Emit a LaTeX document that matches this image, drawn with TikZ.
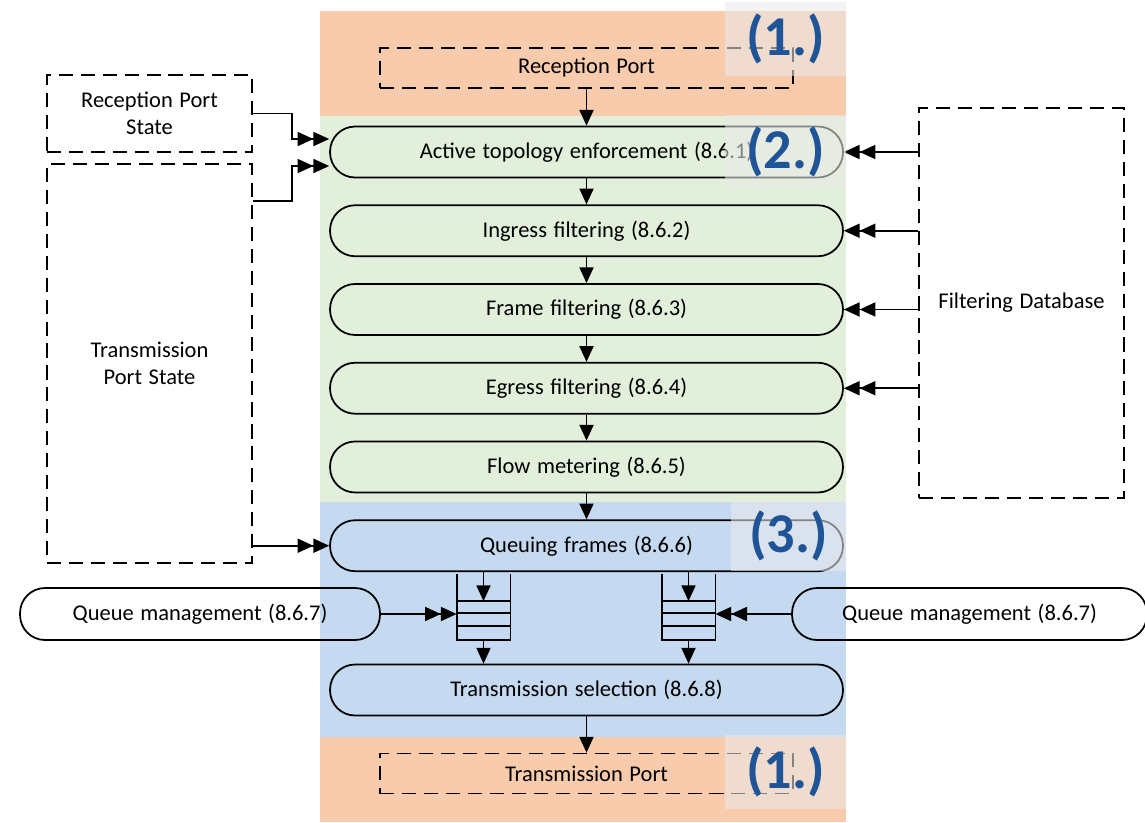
\documentclass[tikz,border=0pt]{standalone}
\usepackage{fontspec}
\setmainfont{Carlito}[WordSpace=1.3]
\usetikzlibrary{arrows.meta,positioning}
\definecolor{bandorange}{HTML}{F8CBAD}
\definecolor{bandgreen}{HTML}{E2EFDA}
\definecolor{bandblue}{HTML}{C5D9F0}
\definecolor{labelblue}{HTML}{1F5597}
\begin{document}
\begin{tikzpicture}[x=0.02cm,y=-0.02cm,>={Triangle[length=9pt,width=8pt]},font=\fontsize{12.8}{15.5}\selectfont,line width=1pt]

    % Define node styles
    \tikzstyle{stage_block} = [draw, rounded corners=0.5cm, minimum width=10.26cm, minimum height=1.02cm, text centered]
    \tikzstyle{port_block} = [draw, dash pattern=on 8pt off 4.5pt, minimum width=8.26cm, minimum height=0.8cm, text centered]
    \tikzstyle{state_block} = [draw, dash pattern=on 8pt off 4.5pt, minimum width=4.1cm, align=center]
    \tikzstyle{manage_block} = [draw, rounded corners=0.5cm, minimum height=1.04cm, text centered]
    \tikzstyle{queue_block} = [minimum width=1.04cm, minimum height=0.74cm, inner sep=0pt]
    \tikzstyle{band_label} = [fill=black!8, fill opacity=0.56, text opacity=1, text=labelblue, font=\fontsize{32}{34}\selectfont\bfseries, minimum width=2.42cm, minimum height=1.48cm]

    \useasboundingbox (0,0) rectangle (1145,822);

    % Draw bands
    \fill[bandorange] (320,11) rectangle (846,116);
    \fill[bandgreen] (320,116) rectangle (846,502);
    \fill[bandblue] (320,502) rectangle (846,737);
    \fill[bandorange] (320,737) rectangle (846,822);

    % Draw nodes
    \node [port_block] (rx_port) at (586.5,68) {Reception Port};
    \node [stage_block] (active) at (586.5,152) {Active topology enforcement (8.6.1)};
    \node [stage_block, below=0.52cm of active] (ingress) {Ingress filtering (8.6.2)};
    \node [stage_block, below=0.52cm of ingress] (frame) {Frame filtering (8.6.3)};
    \node [stage_block, below=0.52cm of frame] (egress) {Egress filtering (8.6.4)};
    \node [stage_block, below=0.52cm of egress] (metering) {Flow metering (8.6.5)};
    \node [stage_block, below=0.52cm of metering] (queuing) {Queuing frames (8.6.6)};
    \node [stage_block] (tx_select) at (586.5,690) {Transmission selection (8.6.8)};
    \node [port_block] (tx_port) at (586.5,773.5) {Transmission Port};

    \node [state_block, minimum height=1.54cm] (rx_state) at (149.5,113.5) {Reception Port\\State};
    \node [state_block, minimum height=7.98cm] (tx_state) at (149.5,363.5) {Transmission\\Port State};
    \node [state_block, minimum height=7.8cm] (fdb) at (1021.5,303) {Filtering Database};

    \node [manage_block, minimum width=7.2cm] (qm_left) at (200,614) {Queue management (8.6.7)};
    \node [manage_block, minimum width=7.1cm] (qm_right) at (969.5,614) {Queue management (8.6.7)};

    \node [queue_block] (queue_left) at (483.5,620.5) {};
    \node [queue_block] (queue_right) at (688.5,620.5) {};

    % Draw queues
    \foreach \q in {queue_left,queue_right} {
        \draw ([yshift=0.54cm]\q.north west) |- (\q.south east) -- ([yshift=0.54cm]\q.north east);
        \draw (\q.north west) -- (\q.north east);
        \draw ([yshift=-0.24cm]\q.north west) -- ([yshift=-0.24cm]\q.north east);
        \draw ([yshift=-0.5cm]\q.north west) -- ([yshift=-0.5cm]\q.north east);
    }

    % Draw arrows
    \draw [->] (rx_port) -- (active);
    \draw [->] (active) -- (ingress);
    \draw [->] (ingress) -- (frame);
    \draw [->] (frame) -- (egress);
    \draw [->] (egress) -- (metering);
    \draw [->] (metering) -- (queuing);
    \draw [->] (tx_select) -- (tx_port);

    \draw [->] (queuing.south -| queue_left.north) -- (queue_left.north);
    \draw [->] (queuing.south -| queue_right.north) -- (queue_right.north);
    \draw [->] (queue_left.south) -- (queue_left.south |- tx_select.north);
    \draw [->] (queue_right.south) -- (queue_right.south |- tx_select.north);

    \draw [->>] (qm_left.east) -- (qm_left.east -| queue_left.west);
    \draw [->>] (qm_right.west) -- (qm_right.west -| queue_right.east);

    \draw [->>] (rx_state.east) -- ++(0.78cm,0) |- ([yshift=0.26cm]active.west);
    \draw [->>] ([yshift=-0.76cm]tx_state.north east) -- ++(0.78cm,0) |- ([yshift=-0.28cm]active.west);
    \draw [->>] (tx_state.east |- queuing.west) -- (queuing.west);

    \foreach \s in {active,ingress,frame,egress} {
        \draw [->>] (fdb.west |- \s.east) -- (\s.east);
    }

    % Draw band labels
    \node [band_label] (label_rx) at (785.5,39) {(1.)};
    \node [band_label, minimum height=1.46cm] (label_filter) at (785.5,151.5) {(2.)};
    \node [band_label, minimum width=2.3cm, minimum height=1.42cm] (label_queue) at (788.5,535.5) {(3.)};
    \node [band_label] (label_tx) at (785.5,772) {(1.)};

\end{tikzpicture}
\end{document}
